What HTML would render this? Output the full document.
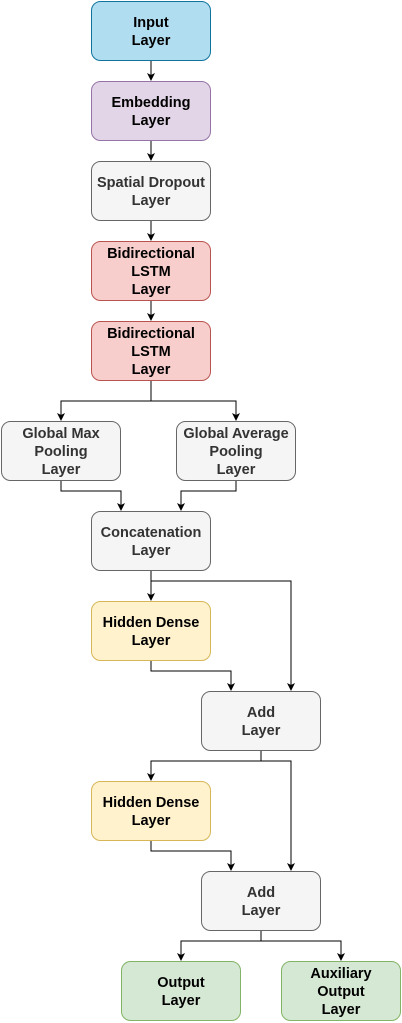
<!DOCTYPE html>
<html><head><meta charset="utf-8"><style>
html,body{margin:0;padding:0;background:#fff;}
svg{display:block;}
text{font-family:"Liberation Sans",sans-serif;font-size:14.5px;font-weight:bold;text-anchor:middle;}
</style></head><body>
<svg width="402" height="1023" viewBox="0 0 402 1023" xmlns="http://www.w3.org/2000/svg">
<g fill="none" stroke="#000" stroke-width="1">
<path d="M151 61V75"/>
<path d="M151 141V155"/>
<path d="M151 221V235"/>
<path d="M151 301V315"/>
<path d="M151 381V401H61V415M151 401H236V415"/>
<path d="M61 481V491H121V505"/>
<path d="M236 481V491H181V505"/>
<path d="M151 571V595M151 581H291V685"/>
<path d="M151 661V671H231V685"/>
<path d="M261 751V761H151V775M261 761H291V865"/>
<path d="M151 841V851H231V865"/>
<path d="M261 931V941H181V955M261 941H341V955"/>
</g>
<g fill="#000">
<path d="M147 73L151 81L155 73L151 75Z"/>
<path d="M147 153L151 161L155 153L151 155Z"/>
<path d="M147 233L151 241L155 233L151 235Z"/>
<path d="M147 313L151 321L155 313L151 315Z"/>
<path d="M57 413L61 421L65 413L61 415Z"/>
<path d="M232 413L236 421L240 413L236 415Z"/>
<path d="M117 503L121 511L125 503L121 505Z"/>
<path d="M177 503L181 511L185 503L181 505Z"/>
<path d="M147 593L151 601L155 593L151 595Z"/>
<path d="M287 683L291 691L295 683L291 685Z"/>
<path d="M227 683L231 691L235 683L231 685Z"/>
<path d="M147 773L151 781L155 773L151 775Z"/>
<path d="M287 863L291 871L295 863L291 865Z"/>
<path d="M227 863L231 871L235 863L231 865Z"/>
<path d="M177 953L181 961L185 953L181 955Z"/>
<path d="M337 953L341 961L345 953L341 955Z"/>
</g>
<g stroke-width="1">
<rect x="91.5" y="1.5" width="119" height="59" rx="9" fill="#b1ddf0" stroke="#10739e"/>
<rect x="91.5" y="81.5" width="119" height="59" rx="9" fill="#e1d5e7" stroke="#9673a6"/>
<rect x="91.5" y="161.5" width="119" height="59" rx="9" fill="#f5f5f5" stroke="#666"/>
<rect x="91.5" y="241.5" width="119" height="59" rx="9" fill="#f8cecc" stroke="#b85450"/>
<rect x="91.5" y="321.5" width="119" height="59" rx="9" fill="#f8cecc" stroke="#b85450"/>
<rect x="1.5" y="421.5" width="119" height="59" rx="9" fill="#f5f5f5" stroke="#666"/>
<rect x="176.5" y="421.5" width="119" height="59" rx="9" fill="#f5f5f5" stroke="#666"/>
<rect x="91.5" y="511.5" width="119" height="59" rx="9" fill="#f5f5f5" stroke="#666"/>
<rect x="91.5" y="601.5" width="119" height="59" rx="9" fill="#fff2cc" stroke="#d6b656"/>
<rect x="201.5" y="691.5" width="119" height="59" rx="9" fill="#f5f5f5" stroke="#666"/>
<rect x="91.5" y="781.5" width="119" height="59" rx="9" fill="#fff2cc" stroke="#d6b656"/>
<rect x="201.5" y="871.5" width="119" height="59" rx="9" fill="#f5f5f5" stroke="#666"/>
<rect x="121.5" y="961.5" width="119" height="59" rx="9" fill="#d5e8d4" stroke="#82b366"/>
<rect x="281.5" y="961.5" width="119" height="59" rx="9" fill="#d5e8d4" stroke="#82b366"/>
</g>
<g fill="#000">
<text x="151" y="27">Input</text><text x="151" y="45">Layer</text>
<text x="151" y="107">Embedding</text><text x="151" y="125">Layer</text>
<text x="151" y="258">Bidirectional</text><text x="151" y="276">LSTM</text><text x="151" y="294">Layer</text>
<text x="151" y="338">Bidirectional</text><text x="151" y="356">LSTM</text><text x="151" y="374">Layer</text>
<text x="151" y="627">Hidden Dense</text><text x="151" y="645">Layer</text>
<text x="151" y="807">Hidden Dense</text><text x="151" y="825">Layer</text>
<text x="181" y="987">Output</text><text x="181" y="1005">Layer</text>
<text x="341" y="978">Auxiliary</text><text x="341" y="996">Output</text><text x="341" y="1014">Layer</text>
</g>
<g fill="#333">
<text x="151" y="187">Spatial Dropout</text><text x="151" y="205">Layer</text>
<text x="61" y="438">Global Max</text><text x="61" y="456">Pooling</text><text x="61" y="474">Layer</text>
<text x="236" y="438">Global Average</text><text x="236" y="456">Pooling</text><text x="236" y="474">Layer</text>
<text x="151" y="537">Concatenation</text><text x="151" y="555">Layer</text>
<text x="261" y="717">Add</text><text x="261" y="735">Layer</text>
<text x="261" y="897">Add</text><text x="261" y="915">Layer</text>
</g>
</svg>
</body></html>
